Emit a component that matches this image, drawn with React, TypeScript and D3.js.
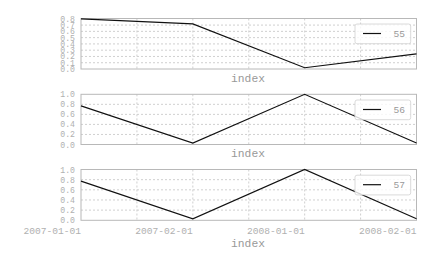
import React from "react";
import * as d3 from "d3";

const categories = ["2007-01-01", "2007-02-01", "2008-01-01", "2008-02-01"];
const seriesNames = ["55", "56", "57"];
const series55 = [0.8, 0.72, 0.02, 0.24];
const series56 = [0.77, 0.03, 1.0, 0.03];
const series57 = [0.77, 0.03, 1.0, 0.03];
const yTicks1 = [0, 0.1, 0.2, 0.3, 0.4, 0.5, 0.6, 0.7, 0.8];
const yTicks2 = [0, 0.2, 0.4, 0.6, 0.8, 1.0];
const yMax = [0.805, 1.0, 1.0];

const W = 438, H = 257;
const left = 81, right = 416.5;
const panels = [
  { top: 18.5, bottom: 69, values: series55, ticks: yTicks1, max: yMax[0], name: seriesNames[0], indexY: 81.5 },
  { top: 94.3, bottom: 144.5, values: series56, ticks: yTicks2, max: yMax[1], name: seriesNames[1], indexY: 157 },
  { top: 169.5, bottom: 220.3, values: series57, ticks: yTicks2, max: yMax[2], name: seriesNames[2], indexY: 247 },
];

const FONT = "'Liberation Mono', 'DejaVu Sans Mono', monospace";
const GRID = "#c4c4c4";
const SPINE = "#b8b8b8";
const LABEL = "#b0b0b0";

export default function App() {
  const x = d3.scaleLinear().domain([0, categories.length - 1]).range([left, right]);
  const minor = d3.range(0.5, categories.length - 1, 0.5).filter((v) => v > 0 && v < categories.length - 1);
  return (
    <svg width={W} height={H} style={{ position: "absolute", left: 0, top: 0, background: "#fff" }} fontFamily={FONT}>
      {panels.map((p, pi) => {
        const y = d3.scaleLinear().domain([0, p.max]).range([p.bottom, p.top]);
        const line = d3.line<number>().x((_, i) => x(i)).y((d) => y(d));
        const isLast = pi === panels.length - 1;
        return (
          <g key={pi}>
            {minor.map((v) => (
              <line key={"v" + v} x1={x(v)} x2={x(v)} y1={p.top} y2={p.bottom} stroke={GRID} strokeWidth={0.8} strokeDasharray="2,2" />
            ))}
            {p.ticks.filter((t) => t > 0 && y(t) > p.top + 1).map((t) => (
              <line key={"h" + t} x1={left} x2={right} y1={y(t)} y2={y(t)} stroke={GRID} strokeWidth={0.8} strokeDasharray="2,2" />
            ))}
            <rect x={left} y={p.top} width={right - left} height={p.bottom - p.top} fill="none" stroke={SPINE} strokeWidth={1} />
            <path d={line(p.values) || ""} fill="none" stroke="#111" strokeWidth={1.2} />
            {p.ticks.map((t) => (
              <text key={"t" + t} x={left - 6} y={y(t) + 3} textAnchor="end" fontSize={8.2} fill={LABEL}>
                {t.toFixed(1)}
              </text>
            ))}
            {isLast && categories.map((c, i) => (
              <text key={c} x={x(i)} y={233.5} textAnchor="end" fontSize={9.6} fill={LABEL}>{c}</text>
            ))}
            <text x={248} y={p.indexY} textAnchor="middle" fontSize={11.3} fill="#999">index</text>
            <g transform={`translate(355, ${p.top + (pi === 0 ? 5.5 : 5.7)})`}>
              <rect x={0} y={0} width={55.7} height={19.7} rx={2} fill="#fff" fillOpacity={0.8} stroke="#d0d0d0" strokeWidth={0.8} />
              <line x1={8} x2={26} y1={9.5} y2={9.5} stroke="#111" strokeWidth={1.2} />
              <text x={50} y={13} textAnchor="end" fontSize={9.6} fill="#999">{p.name}</text>
            </g>
          </g>
        );
      })}
    </svg>
  );
}
